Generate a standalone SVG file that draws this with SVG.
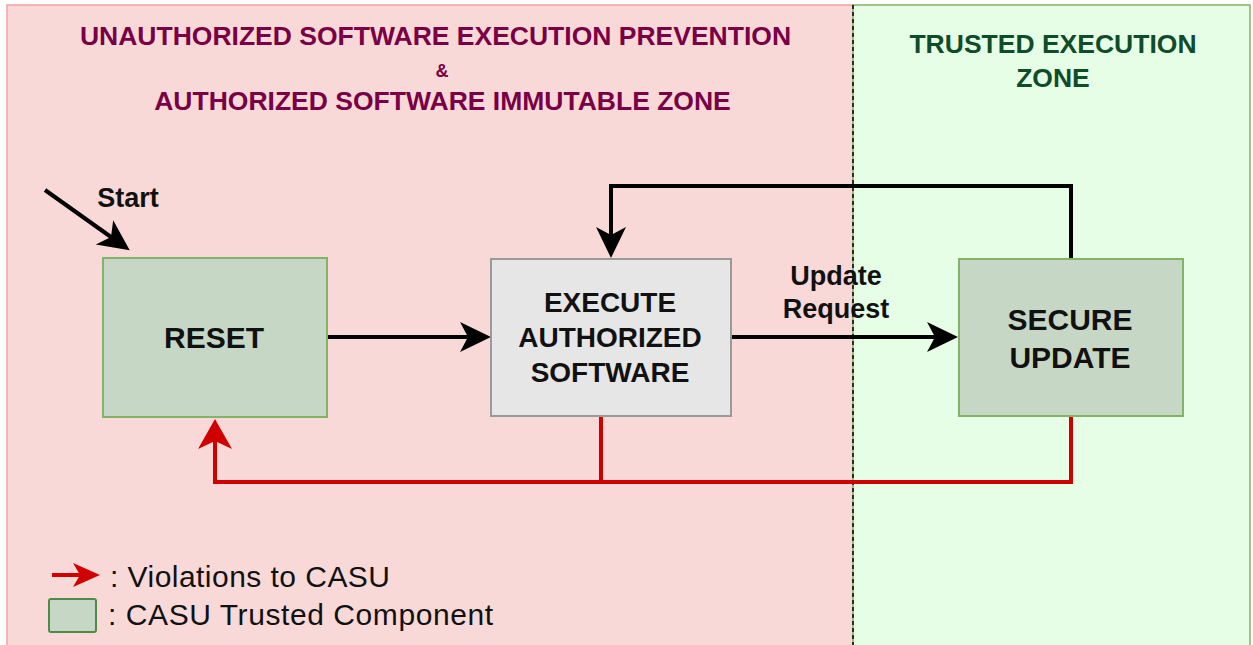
<svg xmlns="http://www.w3.org/2000/svg" width="1253" height="645" viewBox="0 0 1253 645">
<defs>
<style>
.t{font-family:"Liberation Sans",Arial,Helvetica,sans-serif;font-weight:bold;text-anchor:middle}
.title{font-size:26.5px;fill:#7A0045}
.gtitle{font-size:26.5px;fill:#0F4C2A}
.node{font-size:29px;fill:#111}
.lbl{font-size:27px;fill:#111}
.leg{font-family:"Liberation Sans",Arial,Helvetica,sans-serif;font-size:30px;fill:#111}
.blk{fill:none;stroke:#000;stroke-width:4}
.red{fill:none;stroke:#D00000;stroke-width:4}
.gbox{fill:#C6D8C5;stroke:#82B366;stroke-width:2}
.xbox{fill:#E6E6E6;stroke:#9A9A9A;stroke-width:2}
</style>
<marker id="ab" markerUnits="userSpaceOnUse" viewBox="0 -16 32 32" refX="8" refY="0" markerWidth="32" markerHeight="32" orient="auto">
<path d="M0,-15 L31,0 L0,15 L8,0 Z" fill="#000"/>
</marker>
<marker id="ar" markerUnits="userSpaceOnUse" viewBox="0 -18 32 36" refX="8" refY="0" markerWidth="32" markerHeight="36" orient="auto">
<path d="M0,-17 L30,0 L0,17 L8,0 Z" fill="#D00000"/>
</marker>
<marker id="arl" markerUnits="userSpaceOnUse" viewBox="0 -13 28 26" refX="7" refY="0" markerWidth="28" markerHeight="26" orient="auto">
<path d="M0,-12 L27,0 L0,12 L7,0 Z" fill="#D00000"/>
</marker>
</defs>
<g id="zones">
<rect x="7" y="5" width="846" height="645" fill="#F8D9D8" stroke="#F4A3A1" stroke-width="1.5"/>
<rect x="853" y="5" width="397" height="645" fill="#E6FEE6" stroke="#82B366" stroke-width="1.5"/>
<line x1="853" y1="5" x2="853" y2="645" stroke="#000" stroke-width="1.5" stroke-dasharray="4 3"/>
<text class="t title" x="435.5" y="45">UNAUTHORIZED SOFTWARE EXECUTION PREVENTION</text>
<text class="t title" x="442" y="77" style="font-size:18px">&amp;</text>
<text class="t title" x="442.5" y="110">AUTHORIZED SOFTWARE IMMUTABLE ZONE</text>
<text class="t gtitle" x="1053" y="53">TRUSTED EXECUTION</text>
<text class="t gtitle" x="1053" y="87">ZONE</text>
</g>
<g id="connectors">
<path class="blk" d="M45,190 L111,237" marker-end="url(#ab)"/>
<text class="t lbl" x="128" y="207">Start</text>
<path class="blk" d="M327,337 H468" marker-end="url(#ab)"/>
<path class="blk" d="M731,337 H935" marker-end="url(#ab)"/>
<text class="t lbl" x="836" y="285">Update</text>
<text class="t lbl" x="836" y="318">Request</text>
<path class="blk" d="M1071,259 V186 H611 V235" marker-end="url(#ab)"/>
<path class="red" d="M601,416 V482"/>
<path class="red" d="M1071,416 V482 H215 V441" marker-end="url(#ar)"/>
</g>
<g id="reset">
<rect class="gbox" x="103" y="258" width="224" height="159"/>
<text class="t node" x="214" y="348" style="font-size:30px">RESET</text>
</g>
<g id="execute">
<rect class="xbox" x="491" y="259" width="240" height="157"/>
<text class="t node" x="610" y="312" style="font-size:28px">EXECUTE</text>
<text class="t node" x="610" y="347" style="font-size:28px">AUTHORIZED</text>
<text class="t node" x="610" y="382" style="font-size:28px">SOFTWARE</text>
</g>
<g id="secure">
<rect class="gbox" x="959" y="259" width="224" height="157"/>
<text class="t node" x="1070" y="330" style="font-size:30px">SECURE</text>
<text class="t node" x="1070" y="368" style="font-size:30px">UPDATE</text>
</g>
<g id="legend">
<path d="M52,575 H80" stroke="#D00000" stroke-width="4" fill="none" marker-end="url(#arl)"/>
<text class="leg" x="110" y="587" textLength="280" lengthAdjust="spacing">: Violations to CASU</text>
<rect x="49" y="599" width="47" height="33" rx="2" fill="#C6D8C5" stroke="#4E8A4A" stroke-width="2"/>
<text class="leg" x="108" y="625" textLength="385" lengthAdjust="spacing">: CASU Trusted Component</text>
</g>
</svg>
